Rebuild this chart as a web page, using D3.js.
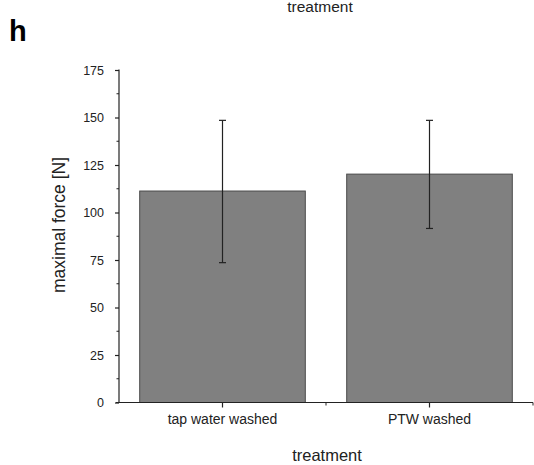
<!DOCTYPE html>
<html><head><meta charset="utf-8">
<script src="https://cdn.jsdelivr.net/npm/d3@7"></script>
<style>body{margin:0;background:#fff;} svg{display:block;font-family:"Liberation Sans",Arial,sans-serif;}</style>
</head><body>
<script>
const categories = ["tap water washed", "PTW washed"];
const means = [111.3, 120.2];
const errLow = [73.6, 91.6];
const errHigh = [148.5, 148.5];
const yTicks = [0, 25, 50, 75, 100, 125, 150, 175];
const yMinorTicks = [12.5, 37.5, 62.5, 87.5, 112.5, 137.5, 162.5];

const W = 534, H = 465;
const svg = d3.select("body").append("svg").attr("width", W).attr("height", H);
const x0 = 119, x1 = 533, y0 = 402.5, y1 = 70;
const x = d3.scaleBand().domain(categories).range([x0, x1]).paddingInner(0).paddingOuter(0);
const y = d3.scaleLinear().domain([0, 175]).range([y0, y1]);
const bw = x.bandwidth() * 0.8;

// bars
svg.selectAll("rect.bar").data(categories).enter().append("rect")
  .attr("x", d => x(d) + (x.bandwidth() - bw) / 2)
  .attr("y", (d, i) => y(means[i]))
  .attr("width", bw)
  .attr("height", (d, i) => y(0) - y(means[i]))
  .attr("fill", "#808080").attr("stroke", "#4a4a4a").attr("stroke-width", 1);

// error bars
categories.forEach((c, i) => {
  const cx = x(c) + x.bandwidth() / 2;
  const g = svg.append("g").attr("stroke", "#222").attr("stroke-width", 1.2);
  g.append("line").attr("x1", cx).attr("x2", cx).attr("y1", y(errLow[i])).attr("y2", y(errHigh[i]));
  g.append("line").attr("x1", cx - 3.5).attr("x2", cx + 3.5).attr("y1", y(errLow[i])).attr("y2", y(errLow[i]));
  g.append("line").attr("x1", cx - 3.5).attr("x2", cx + 3.5).attr("y1", y(errHigh[i])).attr("y2", y(errHigh[i]));
});

// y axis
const ya = svg.append("g").attr("transform", `translate(${x0},0)`)
  .call(d3.axisLeft(y).tickValues(yTicks).tickSize(4).tickPadding(11).tickSizeOuter(0));
ya.append("g").selectAll("line").data(yMinorTicks).enter().append("line")
  .attr("x1", -2.5).attr("x2", 0).attr("y1", d => y(d)).attr("y2", d => y(d)).attr("stroke", "#222");
ya.select(".domain").attr("d", `M0,${y1 - 0.5}V${y0}`);

// x axis
const xa = svg.append("g").attr("transform", `translate(0,${y0})`)
  .call(d3.axisBottom(x).tickSize(5).tickPadding(7).tickSizeOuter(0));
xa.select(".domain").attr("d", `M${x0 - 3},0H${x1}`);
xa.append("g").selectAll("line").data(categories).enter().append("line")
  .attr("x1", d => x(d) + x.bandwidth()).attr("x2", d => x(d) + x.bandwidth())
  .attr("y1", 0).attr("y2", 3).attr("stroke", "#222");

svg.selectAll(".domain, .tick line").attr("stroke", "#222").attr("stroke-width", 1.2);
ya.selectAll(".tick text").attr("font-size", 12.5).attr("fill", "#222");
xa.selectAll(".tick text").attr("font-size", 14).attr("fill", "#222");
svg.selectAll("text").attr("font-family", "Liberation Sans, Arial, sans-serif");

// axis titles
svg.append("text").attr("x", 327).attr("y", 461).attr("text-anchor", "middle")
  .attr("font-size", 16.5).attr("fill", "#222").text("treatment");
svg.append("text").attr("transform", "translate(65,225) rotate(-90)").attr("text-anchor", "middle")
  .attr("font-size", 17.5).attr("fill", "#222").text("maximal force [N]");
// top cropped title from previous panel
svg.append("text").attr("x", 320).attr("y", 12).attr("text-anchor", "middle")
  .attr("font-size", 15.5).attr("fill", "#222").text("treatment");
// panel letter
svg.append("text").attr("x", 9).attr("y", 41).attr("font-size", 29).attr("font-weight", "bold")
  .attr("fill", "#000").text("h");
</script>
</body></html>
